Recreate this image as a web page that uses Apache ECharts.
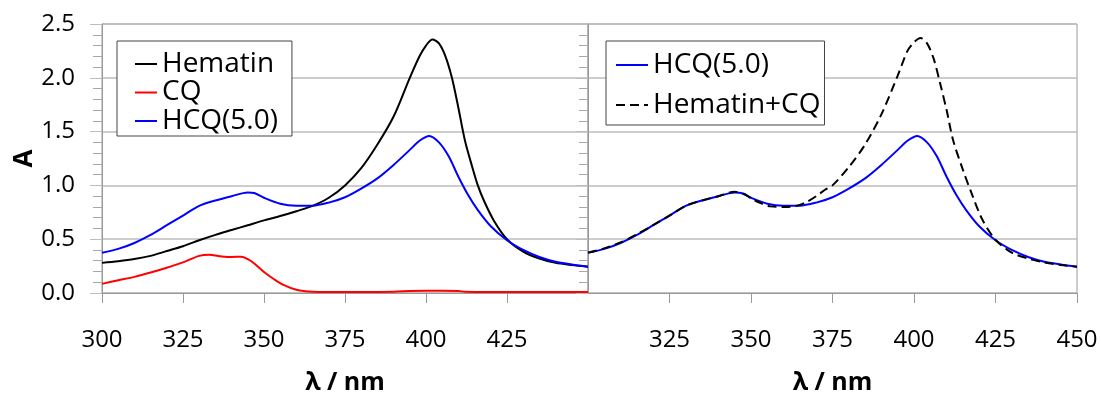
<!DOCTYPE html>
<html>
<head>
<meta charset="utf-8">
<script src="https://cdn.jsdelivr.net/npm/echarts@6/dist/echarts.min.js"></script>
<style>
    html, body { margin: 0; padding: 0; background: #fff; }
    #chart { width: 1101px; height: 394px; }
</style>
</head>
<body>
<div id="chart"></div>
<script>
// spectra (wavelength in nm, absorbance A)
const hematinNm = [300, 305, 310, 315, 320, 325, 330, 335, 340, 345, 350, 355, 360, 365, 370, 375, 380, 385, 390, 395, 398, 400, 402, 404, 406, 408, 410, 412, 414, 416, 418, 421, 425, 430, 435, 440, 445, 450];
const hematinA = [0.28, 0.295, 0.315, 0.345, 0.39, 0.435, 0.49, 0.54, 0.585, 0.63, 0.675, 0.715, 0.76, 0.81, 0.885, 1.0, 1.16, 1.38, 1.64, 2.0, 2.2, 2.3, 2.355, 2.32, 2.2, 2.0, 1.72, 1.42, 1.2, 1.0, 0.85, 0.67, 0.5, 0.385, 0.32, 0.28, 0.26, 0.245];

const cqNm = [300, 305, 310, 315, 320, 325, 330, 333, 337, 340, 343, 345, 347, 350, 353, 356, 360, 365, 370, 380, 390, 395, 400, 405, 410, 412, 420, 450];
const cqA = [0.085, 0.118, 0.15, 0.19, 0.235, 0.285, 0.345, 0.355, 0.34, 0.335, 0.338, 0.315, 0.275, 0.195, 0.13, 0.075, 0.03, 0.012, 0.01, 0.01, 0.012, 0.018, 0.02, 0.02, 0.018, 0.012, 0.01, 0.01];

const hcqNm = [300, 305, 310, 315, 320, 325, 330, 335, 340, 345, 347, 350, 355, 360, 365, 370, 375, 380, 385, 390, 395, 398, 401, 404, 407, 410, 413, 416, 420, 425, 430, 435, 440, 445, 450];
const hcqA = [0.375, 0.41, 0.465, 0.54, 0.63, 0.72, 0.81, 0.86, 0.9, 0.935, 0.93, 0.885, 0.83, 0.812, 0.812, 0.84, 0.89, 0.97, 1.065, 1.19, 1.33, 1.415, 1.46, 1.4, 1.27, 1.08, 0.91, 0.77, 0.62, 0.49, 0.4, 0.335, 0.29, 0.265, 0.245];

const hemCqNm = [300, 305, 310, 315, 320, 325, 330, 335, 340, 345, 348, 350, 353, 356, 360, 364, 367, 370, 373, 375, 380, 385, 390, 395, 398, 400, 402, 404, 406, 408, 410, 412, 415, 418, 421, 425, 430, 435, 440, 445, 450];
const hemCqA = [0.375, 0.415, 0.47, 0.545, 0.63, 0.72, 0.81, 0.86, 0.9, 0.94, 0.92, 0.88, 0.835, 0.805, 0.8, 0.81, 0.845, 0.9, 0.965, 1.0, 1.17, 1.38, 1.66, 2.02, 2.25, 2.33, 2.37, 2.32, 2.18, 1.95, 1.7, 1.42, 1.145, 0.9, 0.68, 0.495, 0.375, 0.32, 0.285, 0.26, 0.245];

const yTickLabels = ['0.0', '0.5', '1.0', '1.5', '2.0', '2.5'];
const legendLeft = ['Hematin', 'CQ', 'HCQ(5.0)'];
const legendRight = ['HCQ(5.0)', 'Hematin+CQ'];

const pairs = (xs, ys) => xs.map((x, i) => [x, ys[i]]);

const FONT = '"Open Sans", "Noto Sans", sans-serif';
const gridGray = '#bdbdbd';
const axisGray = '#9a9a9a';

const xAxisBase = (gridIndex) => ({
    type: 'value',
    gridIndex: gridIndex,
    min: 300,
    max: 450,
    interval: 25,
    name: 'λ / nm',
    nameLocation: 'middle',
    nameGap: 77,
    nameTextStyle: { fontFamily: FONT, fontSize: 25, fontWeight: 'bold', color: '#000' },
    axisLine: { show: true, lineStyle: { color: axisGray, width: 1 } },
    axisTick: { show: true, length: 10, lineStyle: { color: axisGray } },
    splitLine: { show: false },
    axisLabel: {
        margin: 35,
        fontFamily: FONT,
        fontSize: 24,
        color: '#000',
        showMinLabel: gridIndex === 1 ? false : true,
        showMaxLabel: gridIndex === 0 ? false : true,
    },
});

const yAxisBase = (gridIndex) => ({
    type: 'value',
    gridIndex: gridIndex,
    min: 0,
    max: 2.5,
    interval: 0.5,
    name: gridIndex === 0 ? 'A' : '',
    nameLocation: 'middle',
    nameRotate: 90,
    nameGap: 64,
    nameTextStyle: { fontFamily: FONT, fontSize: 26, fontWeight: 'bold', color: '#000' },
    axisLine: { show: true, lineStyle: { color: axisGray, width: 1 } },
    axisTick: { show: true, length: 12, lineStyle: { color: gridGray } },
    minorTick: { show: true, splitNumber: 5, length: 9, lineStyle: { color: '#a8a8a8' } },
    splitLine: { show: true, lineStyle: { color: gridGray, width: 1.5 } },
    axisLabel: {
        show: gridIndex === 0,
        margin: 27,
        fontFamily: FONT,
        fontSize: 24,
        color: '#000',
        formatter: (v) => yTickLabels[Math.round(v / 0.5)],
    },
});

const lineSeries = (name, data, color, gridIndex, dashed) => ({
    name: name,
    type: 'line',
    xAxisIndex: gridIndex,
    yAxisIndex: gridIndex,
    data: data,
    symbol: 'none',
    smooth: 0.3,
    animation: false,
    lineStyle: { color: color, width: 2, type: dashed ? [9, 5] : 'solid' },
    itemStyle: { color: color },
});

const legendBase = {
    orient: 'vertical',
    top: 41,
    itemHeight: 14,
    borderColor: '#444',
    borderWidth: 1,
    backgroundColor: '#fff',
    // hide the symbol drawn in the middle of a line legend icon
    itemStyle: { opacity: 0, borderWidth: 0 },
    textStyle: { fontFamily: FONT, fontSize: 28, lineHeight: 28, color: '#000' },
};

const option = {
    animation: false,
    grid: [
        { left: 102, top: 24, width: 486, height: 269, outerBoundsMode: 'none', containLabel: false, show: true, borderColor: axisGray, borderWidth: 1 },
        { left: 588, top: 24, width: 489, height: 269, outerBoundsMode: 'none', containLabel: false, show: true, borderColor: axisGray, borderWidth: 1 },
    ],
    xAxis: [xAxisBase(0), xAxisBase(1)],
    yAxis: [yAxisBase(0), yAxisBase(1)],
    legend: [
        Object.assign({}, legendBase, {
            data: legendLeft,
            left: 117,
            padding: [9, 14, 1, 17],
            itemGap: 0.5,
            itemWidth: 22,
        }),
        Object.assign({}, legendBase, {
            data: legendRight,
            left: 606,
            padding: [10, 4, 6, 9],
            itemGap: 12,
            itemWidth: 32,
        }),
    ],
    series: [
        lineSeries('Hematin', pairs(hematinNm, hematinA), '#000000', 0, false),
        lineSeries('CQ', pairs(cqNm, cqA), '#ff0000', 0, false),
        lineSeries('HCQ(5.0)', pairs(hcqNm, hcqA), '#0000ff', 0, false),
        lineSeries('HCQ(5.0)', pairs(hcqNm, hcqA), '#0000ff', 1, false),
        lineSeries('Hematin+CQ', pairs(hemCqNm, hemCqA), '#000000', 1, true),
    ],
};

const myChart = echarts.init(document.getElementById('chart'), null, { renderer: 'canvas' });
myChart.setOption(option);
</script>
</body>
</html>
